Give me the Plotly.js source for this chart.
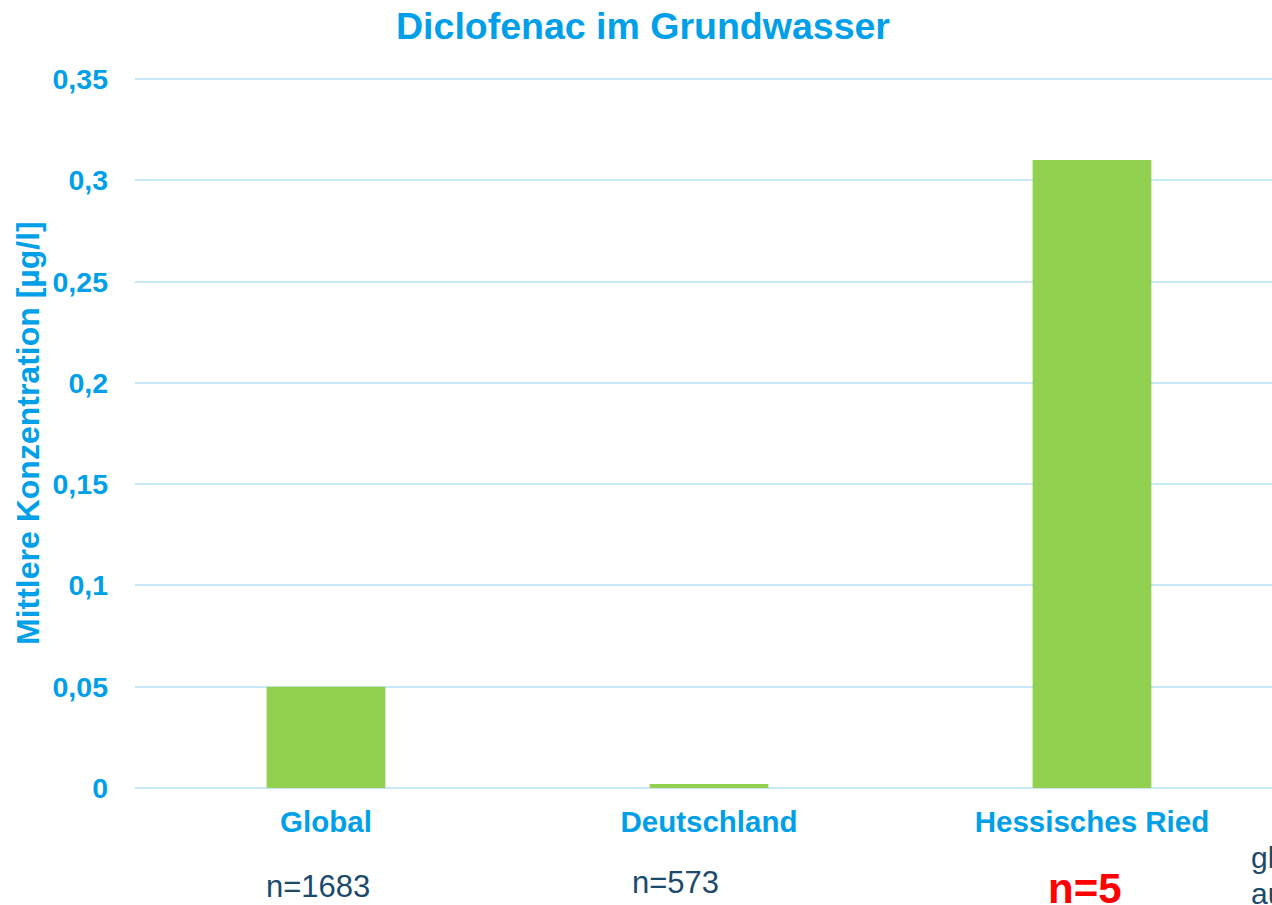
<!DOCTYPE html>
<html>
<head>
<meta charset="utf-8">
<script src="https://cdn.plot.ly/plotly-3.0.1.min.js"></script>
<style>html,body{margin:0;padding:0;background:#fff;}#chart{width:1272px;height:905px;}</style>
</head>
<body>
<div id="chart"></div>
<script>
const categories = ["Global", "Deutschland", "Hessisches Ried"];
const values = [0.05, 0.002, 0.31];
const sampleSizes = ["n=1683", "n=573", "n=5"];
const yTickVals = [0, 0.05, 0.1, 0.15, 0.2, 0.25, 0.3, 0.35];
const yTickText = ["0", "0,05", "0,1", "0,15", "0,2", "0,25", "0,3", "0,35"];

const BLUE = "#00A0E9";
const DARK = "#1B4A6B";
const W = 1272, H = 905;
const L = 135, R = 1272, T = 78, B = 788;
const px = x => (x - L) / (R - L);
const py = y => (B - y) / (B - T);

const trace = {
  type: "bar",
  x: categories,
  y: values,
  width: 0.31,
  marker: {color: "#92D050"},
  hoverinfo: "x+y"
};

const layout = {
  width: W, height: H,
  margin: {l: L, r: W - R, t: T, b: H - B, pad: 0},
  paper_bgcolor: "#ffffff",
  plot_bgcolor: "#ffffff",
  showlegend: false,
  font: {family: "Liberation Sans, Arial, sans-serif"},
  title: {
    text: "<b>Diclofenac im Grundwasser</b>",
    font: {size: 37.5, color: BLUE, family: "Liberation Sans, Arial, sans-serif"},
    x: 643 / W, xref: "container", xanchor: "center",
    y: 1 - 26 / H, yref: "container", yanchor: "middle"
  },
  xaxis: {
    type: "category",
    range: [-0.4987, 2.470],
    showgrid: false,
    showline: false,
    zeroline: false,
    ticks: "",
    tickfont: {size: 29.5, color: BLUE, family: "Liberation Sans, Arial, sans-serif", weight: "bold"},
    ticklabelstandoff: 13
  },
  yaxis: {
    range: [0, 0.3505],
    tickvals: yTickVals,
    ticktext: yTickText,
    showgrid: true,
    gridcolor: "#C8E8F8",
    gridwidth: 1.5,
    zeroline: true,
    zerolinecolor: "#C8E8F8",
    zerolinewidth: 1.5,
    showline: false,
    ticks: "",
    tickfont: {size: 28.5, color: BLUE, family: "Liberation Sans, Arial, sans-serif", weight: "bold"},
    ticklabelstandoff: 26
  },
  annotations: [
    {text: "<b>Mittlere Konzentration [µg/l]</b>", textangle: -90,
     xref: "paper", yref: "paper", x: px(28), y: py(433), xanchor: "center", yanchor: "middle",
     showarrow: false, font: {size: 32, color: BLUE}},
    {text: sampleSizes[0], xref: "paper", yref: "paper", x: px(318), y: py(886),
     xanchor: "center", yanchor: "middle", showarrow: false, font: {size: 31, color: DARK}},
    {text: sampleSizes[1], xref: "paper", yref: "paper", x: px(675), y: py(882),
     xanchor: "center", yanchor: "middle", showarrow: false, font: {size: 31, color: DARK}},
    {text: "<b>" + sampleSizes[2] + "</b>", xref: "paper", yref: "paper", x: px(1085), y: py(888),
     xanchor: "center", yanchor: "middle", showarrow: false, font: {size: 42, color: "#FF0000"}},
    {text: "gl", xref: "paper", yref: "paper", x: px(1249), y: py(857),
     xanchor: "left", yanchor: "middle", showarrow: false, font: {size: 30, color: DARK}},
    {text: "au", xref: "paper", yref: "paper", x: px(1249), y: py(893),
     xanchor: "left", yanchor: "middle", showarrow: false, font: {size: 30, color: DARK}}
  ]
};

Plotly.newPlot("chart", [trace], layout, {displayModeBar: false, responsive: false});
</script>
</body>
</html>
